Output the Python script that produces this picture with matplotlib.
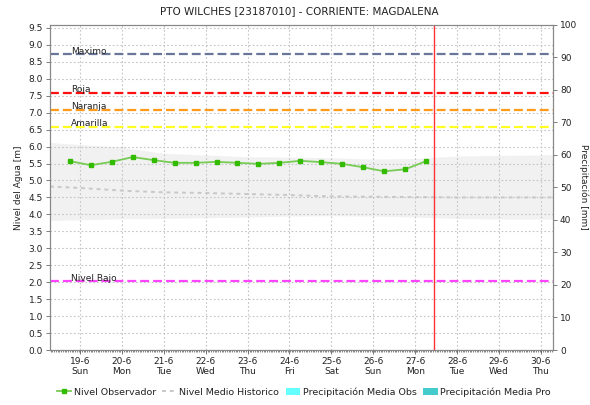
import numpy as np
import matplotlib
matplotlib.use("Agg")
import matplotlib.pyplot as plt
from matplotlib.lines import Line2D
from matplotlib.patches import Patch

# days counted from 19-6 00:00
day_ticks = list(range(12))
day_labels = ["19-6\nSun", "20-6\nMon", "21-6\nTue", "22-6\nWed", "23-6\nThu", "24-6\nFri",
              "25-6\nSat", "26-6\nSun", "27-6\nMon", "28-6\nTue", "29-6\nWed", "30-6\nThu"]

# observed level, two readings per day
obs_x = [-0.24 + 0.5 * i for i in range(18)]
obs_level = [5.57, 5.45, 5.55, 5.69, 5.60, 5.52, 5.52, 5.55, 5.52, 5.49,
             5.52, 5.58, 5.54, 5.49, 5.39, 5.27, 5.33, 5.57]

# historic envelope and mean
hist_x = [-0.714, 0, 1, 2, 3, 4, 5, 6, 7, 8, 9, 10, 11, 11.286]
hist_top = [6.12, 6.06, 5.98, 5.80, 5.75, 5.70, 5.69, 5.67, 5.63, 5.65, 5.72, 5.74, 5.75, 5.76]
hist_bottom = [3.82, 3.84, 3.87, 3.88, 3.90, 3.92, 3.95, 3.96, 3.95, 3.92, 3.88, 3.86, 3.86, 3.86]
hist_mean = [4.82, 4.78, 4.70, 4.65, 4.63, 4.60, 4.57, 4.53, 4.52, 4.51, 4.50, 4.50, 4.50, 4.50]

# alert thresholds
thr_names = ["Maximo", "Roja", "Naranja", "Amarilla", "Nivel Bajo"]
thr_values = [8.72, 7.59, 7.09, 6.59, 2.03]
thr_colors = ["#6a7699", "#ff1010", "#ff9a1a", "#ffff22", "#ff44ff"]

now_x = 8.45

plt.rcParams['font.family'] = ['DejaVu Sans']

fig = plt.figure(figsize=(5.9, 4.05), dpi=100)
ax = fig.add_axes([0.0847, 0.1358, 0.8525, 0.8037])
x0, x1 = -0.714, 11.286

ax.fill_between(hist_x, hist_bottom, hist_top, color="#f1f1f1", lw=0, zorder=1)
ax.grid(True, color="#c4c4c4", ls=(0, (1.5, 2)), lw=0.8, zorder=2)
ax.plot(hist_x, hist_mean, color="#c8c8c8", ls=(0, (2, 2)), lw=1.4, zorder=3)

for name, val, col in zip(thr_names, thr_values, thr_colors):
    ax.plot([x0, x1], [val, val], color=col, lw=1.6, ls=(0, (4, 1.8)), zorder=4)
    ax.text(-0.22, val - 0.04, name, fontsize=6.5, color="#222222", va="bottom", zorder=5)

ax.plot(obs_x, obs_level, color="#77cc55", lw=1.3, marker="s", ms=2.6,
        mfc="#33bb00", mec="#33bb00", zorder=6)
ax.axvline(now_x, color="#ff3333", lw=1, zorder=7)

ax.set_xlim(x0, x1)
ax.set_ylim(0, 9.6)
ax.set_yticks(np.arange(0, 9.51, 0.5))
ax.set_yticklabels([f"{v:.1f}" for v in np.arange(0, 9.51, 0.5)])
ax.set_xticks(day_ticks)
ax.set_xticklabels(day_labels)
ax.set_xticks(np.arange(-0.7, 11.29, 1 / 24), minor=True)
ax.tick_params(axis="x", which="minor", length=1.5, width=0.5, color="#555555")
ax.tick_params(axis="both", which="major", labelsize=6.5, length=3, width=0.6,
               color="#666666", labelcolor="#222222", pad=2)
ax.set_ylabel("Nivel del Agua [m]", fontsize=6.5, color="#222222", labelpad=4)
for s in ax.spines.values():
    s.set_color("#888888")
    s.set_linewidth(0.8)

ax2 = ax.twinx()
ax2.set_ylim(0, 100)
ax2.set_yticks(range(0, 101, 10))
ax2.tick_params(axis="y", labelsize=6.5, length=3, width=0.6, color="#666666",
                labelcolor="#222222", pad=2)
ax2.set_ylabel("Precipitación [mm]", fontsize=6.5, color="#222222", rotation=270, labelpad=8)
for s in ax2.spines.values():
    s.set_color("#888888")
    s.set_linewidth(0.8)

fig.text(0.508, 0.972, "PTO WILCHES [23187010] - CORRIENTE: MAGDALENA",
         ha="center", va="center", fontsize=7.5, color="#222222")

handles = [
    Line2D([], [], color="#77cc55", lw=1.3, marker="s", ms=2.2, mfc="#33bb00", mec="#33bb00"),
    Line2D([], [], color="#c8c8c8", lw=1.4, ls=(0, (2, 2))),
    Patch(facecolor="#66ffff", edgecolor="none"),
    Patch(facecolor="#44cccc", edgecolor="none"),
]
labels = ["Nivel Observador", "Nivel Medio Historico", "Precipitación Media Obs", "Precipitación Media Pro"]
fig.legend(handles, labels, loc="center", bbox_to_anchor=(0.515, 0.032), ncol=4, frameon=False,
           fontsize=6.8, handlelength=1.5, handletextpad=0.3, columnspacing=0.7,
           handleheight=0.9, handler_map=None, labelcolor="#222222")

fig.savefig("out.png", dpi=100)
